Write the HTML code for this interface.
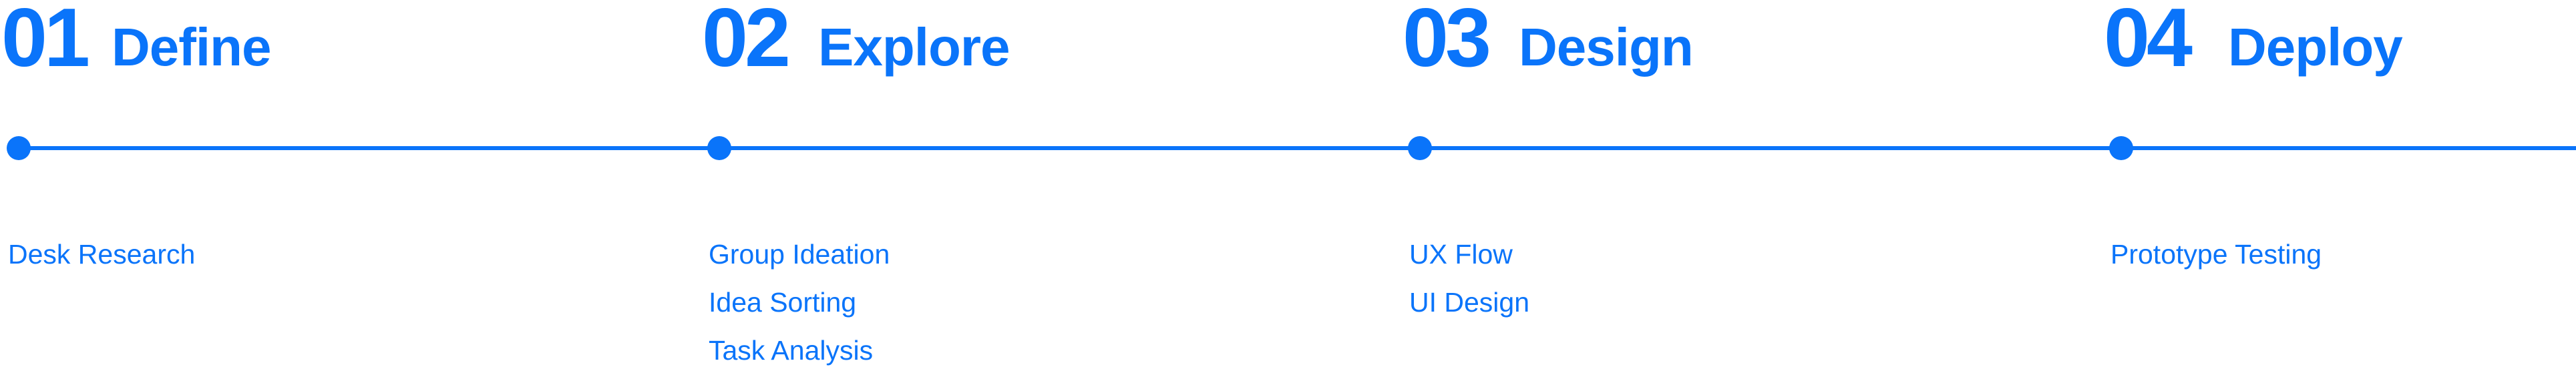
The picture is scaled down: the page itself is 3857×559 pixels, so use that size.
<!DOCTYPE html>
<html><head><meta charset="utf-8"><style>
html,body{margin:0;padding:0;background:#fff;}
body{width:3857px;height:559px;position:relative;overflow:hidden;font-family:"Liberation Sans",sans-serif;color:#0A74FA;}
.n{position:absolute;top:-5px;font-size:124px;line-height:124px;font-weight:bold;letter-spacing:-5px;white-space:nowrap;}
.t{position:absolute;top:31px;font-size:80px;line-height:80px;font-weight:bold;white-space:nowrap;letter-spacing:-1px;}
.s{position:absolute;font-size:41px;line-height:40px;white-space:nowrap;}
.line{position:absolute;left:28px;right:0;top:219px;height:6px;background:#0A74FA;}
.d{position:absolute;top:204px;width:36px;height:36px;border-radius:50%;background:#0A74FA;}
</style></head><body>
<div class="line"></div>
<div class="d" style="left:10px"></div>
<div class="d" style="left:1059px"></div>
<div class="d" style="left:2108px"></div>
<div class="d" style="left:3158px"></div>

<div class="n" style="left:2px">01</div><div class="t" style="left:167px">Define</div>
<div class="n" style="left:1051px">02</div><div class="t" style="left:1225px">Explore</div>
<div class="n" style="left:2100px">03</div><div class="t" style="left:2274px">Design</div>
<div class="n" style="left:3150px">04</div><div class="t" style="left:3336px">Deploy</div>

<div class="s" style="left:12px;top:361px">Desk Research</div>
<div class="s" style="left:1061px;top:361px">Group Ideation</div>
<div class="s" style="left:1061px;top:433px">Idea Sorting</div>
<div class="s" style="left:1061px;top:505px">Task Analysis</div>
<div class="s" style="left:2110px;top:361px">UX Flow</div>
<div class="s" style="left:2110px;top:433px">UI Design</div>
<div class="s" style="left:3160px;top:361px">Prototype Testing</div>
</body></html>
